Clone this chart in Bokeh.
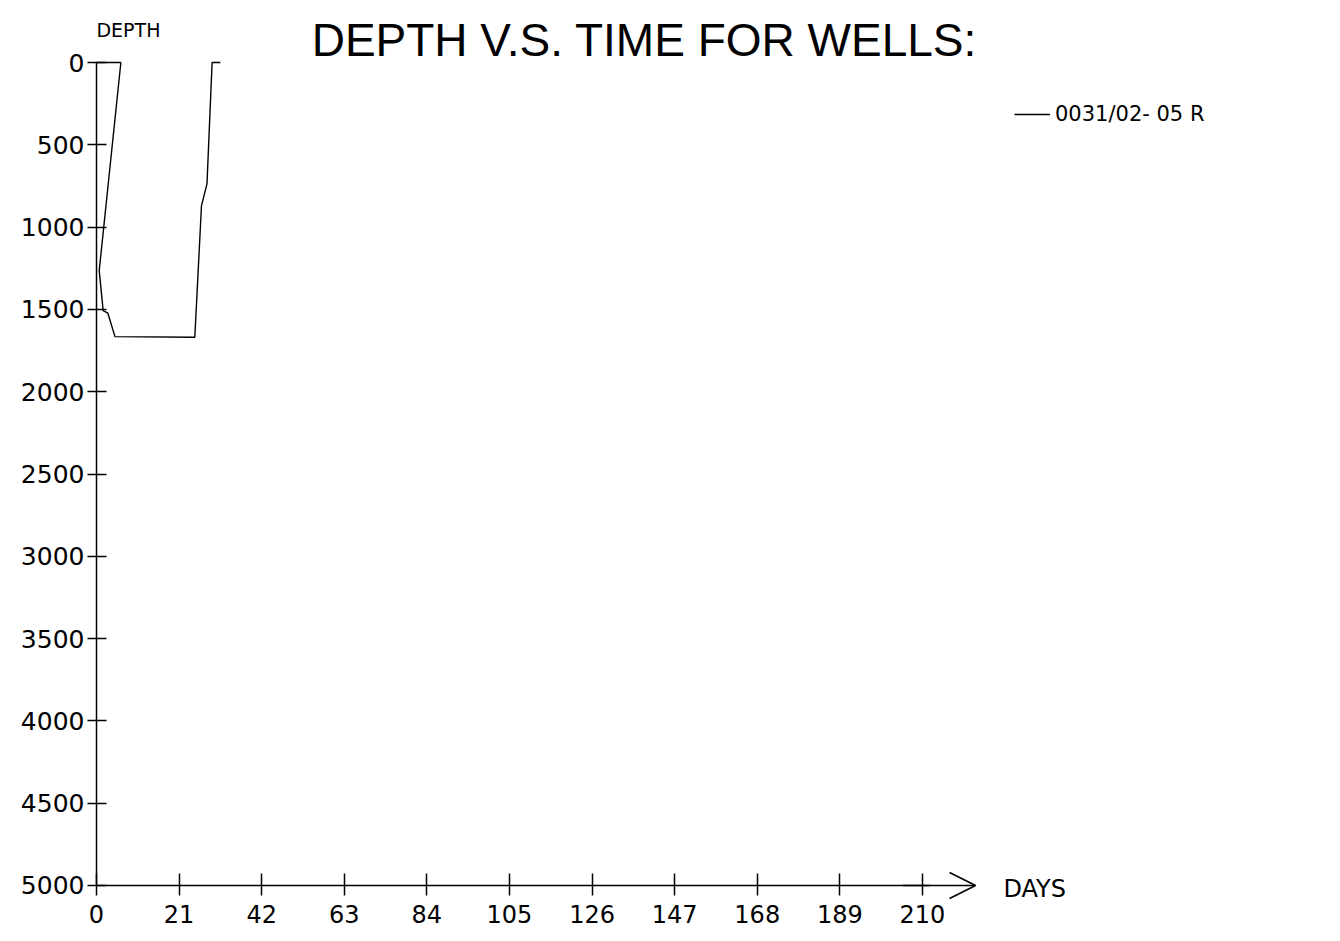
from bokeh.plotting import figure
from bokeh.models import Range1d, FixedTicker, Label, Arrow, OpenHead, Legend, LegendItem
from bokeh.embed import file_html
from bokeh.resources import INLINE

# data
days = [0, 6.2, 0.7, 1.7, 2.9, 4.7, 25.0, 26.7, 28.1, 29.4, 31.5]
depth = [0, 0, 1264, 1507, 1523, 1665, 1669, 869, 737, 0, 0]
well_name = "0031/02- 05 R"
x_ticks = [0, 21, 42, 63, 84, 105, 126, 147, 168, 189, 210]
y_ticks = [0, 500, 1000, 1500, 2000, 2500, 3000, 3500, 4000, 4500, 5000]

FONT = "DejaVu Sans"

p = figure(width=1330, height=935,
           x_range=Range1d(-24.4, 311.2), y_range=Range1d(5304, -377),
           output_backend="svg", toolbar_location=None,
           min_border_left=0, min_border_right=10,
           min_border_top=0, min_border_bottom=0)
p.xgrid.visible = False
p.ygrid.visible = False
p.outline_line_color = None
p.background_fill_color = "white"

r = p.line(days, depth, line_color="black", line_width=1.4)

# y axis, drawn at day 0 inside the frame
ya = p.yaxis[0]
ya.fixed_location = 0
ya.ticker = FixedTicker(ticks=y_ticks)
ya.bounds = (0, 5000)
ya.major_tick_in = 10
ya.major_tick_out = 9
ya.minor_tick_in = 0
ya.minor_tick_out = 0
ya.axis_line_width = 1.5
ya.major_tick_line_width = 1.5
ya.major_label_text_font = FONT
ya.major_label_text_font_size = "25px"
ya.major_label_text_color = "black"
ya.major_label_standoff = 3

# x axis, drawn at depth 5000 inside the frame
xa = p.xaxis[0]
xa.fixed_location = 5000
xa.ticker = FixedTicker(ticks=x_ticks)
xa.bounds = (0, 212)
xa.major_tick_in = 12
xa.major_tick_out = 10
xa.minor_tick_in = 0
xa.minor_tick_out = 0
xa.axis_line_width = 1.5
xa.major_tick_line_width = 1.5
xa.major_label_text_font = FONT
xa.major_label_text_font_size = "24px"
xa.major_label_text_color = "black"
xa.major_label_standoff = 10

p.add_layout(Arrow(end=OpenHead(size=26, line_width=1.5, line_color="black"),
                   x_start=205, x_end=223.5, y_start=5000, y_end=5000,
                   line_width=1.5, line_color="black"))

p.add_layout(Label(x=139.3, y=-134, text="DEPTH V.S. TIME FOR WELLS:",
                   text_font="Liberation Sans", text_font_size="46px",
                   text_align="center", text_baseline="alphabetic",
                   text_color="black"))
p.add_layout(Label(x=0, y=-200, text="DEPTH", text_font=FONT,
                   text_font_size="19px", text_align="left",
                   text_baseline="alphabetic", text_color="black"))
p.add_layout(Label(x=230.6, y=5024, text="DAYS", text_font=FONT,
                   text_font_size="24px", text_align="left",
                   text_baseline="middle", text_color="black"))

legend = Legend(items=[LegendItem(label=well_name, renderers=[r])],
                location=(1014, 809), glyph_width=36, glyph_height=20,
                label_text_font=FONT, label_text_font_size="21px",
                label_text_color="black",
                label_standoff=5, padding=0, margin=0,
                border_line_color=None, background_fill_alpha=0)
p.add_layout(legend)

open("out.html", "w").write(file_html(p, INLINE))
